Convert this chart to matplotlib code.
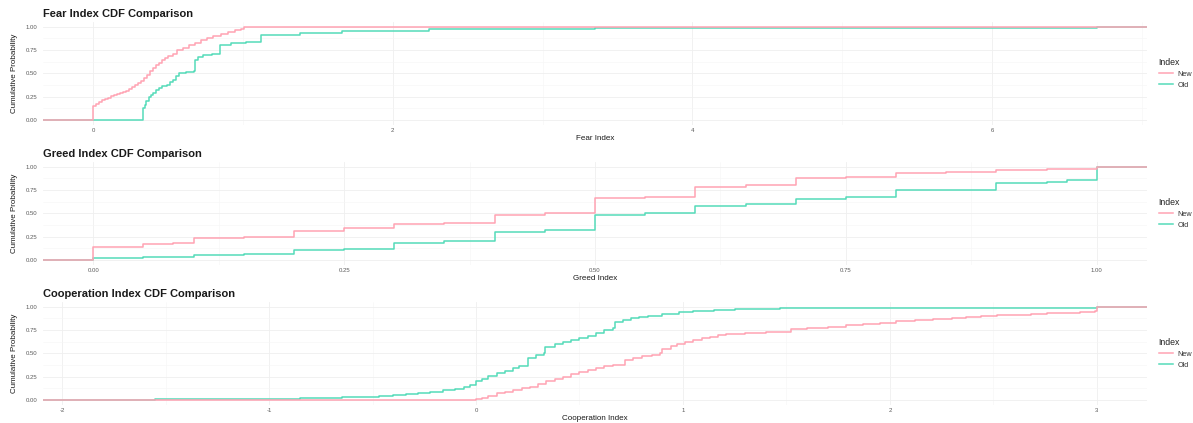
import matplotlib
matplotlib.use("Agg")
import matplotlib.pyplot as plt
from matplotlib.ticker import FixedLocator

plt.rcParams['font.family'] = ['Liberation Sans', 'DejaVu Sans']

W, H = 1193, 423

# ---- ECDF knots: value where the step occurs, cumulative probability after it ----
fear_new_x = [0.00, 0.02, 0.04, 0.06, 0.08, 0.10, 0.12, 0.14, 0.16, 0.18, 0.20, 0.22, 0.24, 0.26,
              0.28, 0.30, 0.32, 0.34, 0.36, 0.38, 0.40, 0.42, 0.44, 0.46, 0.48, 0.50, 0.53, 0.56,
              0.60, 0.64, 0.68, 0.72, 0.76, 0.80, 0.85, 0.90, 0.95, 0.99, 1.01]
fear_new_p = [0.15, 0.17, 0.19, 0.21, 0.225, 0.24, 0.255, 0.265, 0.275, 0.29, 0.30, 0.315, 0.33, 0.35,
              0.37, 0.395, 0.42, 0.45, 0.48, 0.52, 0.56, 0.59, 0.615, 0.64, 0.665, 0.685, 0.71, 0.745,
              0.775, 0.805, 0.83, 0.855, 0.88, 0.90, 0.925, 0.945, 0.965, 0.98, 1.00]
fear_old_x = [0.335, 0.345, 0.355, 0.37, 0.385, 0.40, 0.42, 0.44, 0.46, 0.49, 0.51, 0.53, 0.55, 0.57,
              0.62, 0.67, 0.68, 0.70, 0.73, 0.79, 0.845, 0.92, 1.02, 1.12, 1.38, 1.66, 2.24, 3.35,
              6.70]
fear_old_p = [0.125, 0.16, 0.20, 0.25, 0.27, 0.29, 0.32, 0.34, 0.36, 0.375, 0.41, 0.43, 0.47, 0.50,
              0.51, 0.52, 0.64, 0.67, 0.70, 0.71, 0.80, 0.82, 0.84, 0.91, 0.93, 0.955, 0.97, 0.99,
              1.00]

greed_new_x = [0.00, 0.05, 0.08, 0.10, 0.15, 0.20, 0.25, 0.30, 0.35, 0.40, 0.45, 0.50, 0.55, 0.60,
               0.65, 0.70, 0.75, 0.80, 0.85, 0.90, 0.95, 1.00]
greed_new_p = [0.14, 0.17, 0.18, 0.24, 0.25, 0.31, 0.34, 0.39, 0.40, 0.48, 0.50, 0.66, 0.68, 0.78,
               0.80, 0.88, 0.885, 0.93, 0.94, 0.965, 0.975, 1.00]
greed_old_x = [0.00, 0.05, 0.10, 0.15, 0.20, 0.25, 0.30, 0.35, 0.40, 0.45, 0.50, 0.55, 0.60, 0.65,
               0.70, 0.75, 0.80, 0.85, 0.90, 0.95, 0.97, 1.00]
greed_old_p = [0.025, 0.03, 0.055, 0.065, 0.11, 0.12, 0.18, 0.20, 0.30, 0.32, 0.48, 0.50, 0.58, 0.60,
               0.65, 0.67, 0.75, 0.755, 0.82, 0.84, 0.86, 1.00]

coop_new_x = [0.00, 0.03, 0.06, 0.10, 0.14, 0.18, 0.22, 0.26, 0.30, 0.34, 0.38, 0.42, 0.46, 0.50,
              0.54, 0.58, 0.62, 0.66, 0.72, 0.76, 0.80, 0.85, 0.89, 0.90, 0.94, 0.97, 1.01, 1.05,
              1.09, 1.13, 1.17, 1.21, 1.30, 1.40, 1.47, 1.52, 1.60, 1.70, 1.79, 1.87, 1.95, 2.03,
              2.12, 2.21, 2.30, 2.37, 2.44, 2.52, 2.60, 2.68, 2.76, 2.84, 2.92, 2.99, 3.00]
coop_new_p = [0.01, 0.025, 0.045, 0.07, 0.09, 0.11, 0.125, 0.14, 0.17, 0.20, 0.225, 0.25, 0.275, 0.30,
              0.32, 0.34, 0.36, 0.375, 0.43, 0.45, 0.47, 0.485, 0.50, 0.55, 0.58, 0.60, 0.62, 0.64,
              0.66, 0.68, 0.695, 0.71, 0.72, 0.725, 0.73, 0.76, 0.77, 0.785, 0.80, 0.815, 0.83, 0.845,
              0.86, 0.87, 0.88, 0.89, 0.90, 0.91, 0.915, 0.92, 0.93, 0.935, 0.945, 0.95, 1.00]
coop_old_x = [-1.85, -1.70, -1.55, -1.40, -1.25, -1.10, -0.95, -0.85, -0.75, -0.65, -0.55, -0.47,
              -0.40, -0.34, -0.28, -0.22, -0.16, -0.10, -0.06, -0.03, 0.00, 0.03, 0.06, 0.10, 0.14,
              0.18, 0.21, 0.25, 0.29, 0.33, 0.335, 0.38, 0.42, 0.46, 0.50, 0.54, 0.58, 0.62, 0.66,
              0.67, 0.71, 0.75, 0.79, 0.83, 0.90, 0.98, 1.05, 1.15, 1.25, 1.35, 1.47, 3.00]
coop_old_p = [0.003, 0.005, 0.007, 0.009, 0.011, 0.013, 0.016, 0.019, 0.023, 0.028, 0.035, 0.043,
              0.055, 0.065, 0.078, 0.09, 0.105, 0.12, 0.14, 0.165, 0.20, 0.23, 0.26, 0.29, 0.315,
              0.34, 0.36, 0.45, 0.48, 0.50, 0.57, 0.60, 0.62, 0.64, 0.66, 0.69, 0.72, 0.745, 0.77,
              0.84, 0.86, 0.875, 0.89, 0.90, 0.92, 0.94, 0.95, 0.965, 0.975, 0.98, 0.99, 1.00]

series_labels = ["New", "Old"]
panel_titles = ["Fear Index CDF Comparison", "Greed Index CDF Comparison",
                "Cooperation Index CDF Comparison"]
x_titles = ["Fear Index", "Greed Index", "Cooperation Index"]
x_ticks = [[0, 2, 4, 6], [0.0, 0.25, 0.5, 0.75, 1.0], [-2, -1, 0, 1, 2, 3]]
x_ticklabels = [["0", "2", "4", "6"], ["0.00", "0.25", "0.50", "0.75", "1.00"],
                ["-2", "-1", "0", "1", "2", "3"]]
y_ticks = [0.0, 0.25, 0.5, 0.75, 1.0]
y_ticklabels = ["0.00", "0.25", "0.50", "0.75", "1.00"]

panels = [
    (fear_new_x, fear_new_p, fear_old_x, fear_old_p),
    (greed_new_x, greed_new_p, greed_old_x, greed_old_p),
    (coop_new_x, coop_new_p, coop_old_x, coop_old_p),
]

col_new = "#FFA3B3"
col_old = "#55DBB9"

fig = plt.figure(figsize=(W / 100, H / 100), dpi=100)
fig.patch.set_facecolor("white")

panel_tops = [22, 162, 302]
panel_h = 102.7
px_left, px_width = 43, 1104

for i, (nx, np_, ox, op) in enumerate(panels):
    top = panel_tops[i]
    bottom = top + panel_h
    ax = fig.add_axes([px_left / W, 1 - bottom / H, px_width / W, panel_h / H])

    lo = min(min(nx), min(ox))
    hi = max(max(nx), max(ox))
    span = hi - lo
    xlo, xhi = lo - 0.05 * span, hi + 0.05 * span
    ax.set_xlim(xlo, xhi)
    ax.set_ylim(-0.05, 1.05)

    # major and minor grid, theme_minimal style
    xt = x_ticks[i]
    step = xt[1] - xt[0]
    minors = [t + step / 2 for t in [xt[0] - step] + xt if xlo < t + step / 2 < xhi]
    ax.xaxis.set_minor_locator(FixedLocator(minors))
    ax.yaxis.set_minor_locator(FixedLocator([0.125, 0.375, 0.625, 0.875]))
    ax.grid(which="major", color="#EFEFEF", lw=0.6)
    ax.grid(which="minor", color="#F6F6F6", lw=0.4)
    ax.set_axisbelow(True)
    for s in ax.spines.values():
        s.set_visible(False)

    ax.set_xticks(xt)
    ax.set_xticklabels(x_ticklabels[i])
    ax.set_yticks(y_ticks)
    ax.set_yticklabels(y_ticklabels)
    ax.tick_params(which="both", length=0, labelsize=4.3, labelcolor="#5A5A5A")
    ax.tick_params(axis="x", pad=2.5)
    ax.tick_params(axis="y", pad=4.3)

    # step ECDFs, padded to the panel edges
    ax.plot([xlo] + list(ox) + [xhi], [0] + list(op) + [1], drawstyle="steps-post",
            color=col_old, lw=1.1, label=series_labels[1], zorder=3)
    ax.plot([xlo] + list(nx) + [xhi], [0] + list(np_) + [1], drawstyle="steps-post",
            color=col_new, lw=1.1, label=series_labels[0], zorder=4)

    fig.text(px_left / W, 1 - (top - 8) / H, panel_titles[i], ha="left", va="center",
             fontsize=8, fontweight="bold", color="#1A1A1A")
    fig.text((px_left + px_width / 2) / W, 1 - (bottom + 14) / H, x_titles[i],
             ha="center", va="center", fontsize=5.8, color="#1A1A1A")
    fig.text(14 / W, 1 - (top + panel_h / 2) / H, "Cumulative Probability",
             ha="center", va="center", rotation=90, fontsize=5.8, color="#1A1A1A")

    handles, labels = ax.get_legend_handles_labels()
    order = [labels.index(l) for l in series_labels]
    leg = ax.legend([handles[k] for k in order], [labels[k] for k in order],
                    title="Index", loc="center left",
                    bbox_to_anchor=(1155 / W, 1 - (top + panel_h / 2) / H),
                    bbox_transform=fig.transFigure, frameon=False, fontsize=5.2,
                    title_fontsize=6.3, handlelength=2.0, handletextpad=0.6,
                    labelspacing=0.55, borderpad=0, alignment="left")
    for t in leg.get_texts():
        t.set_color("#333333")
    leg.get_title().set_color("#222222")

fig.savefig("out.png", dpi=100, facecolor="white")
